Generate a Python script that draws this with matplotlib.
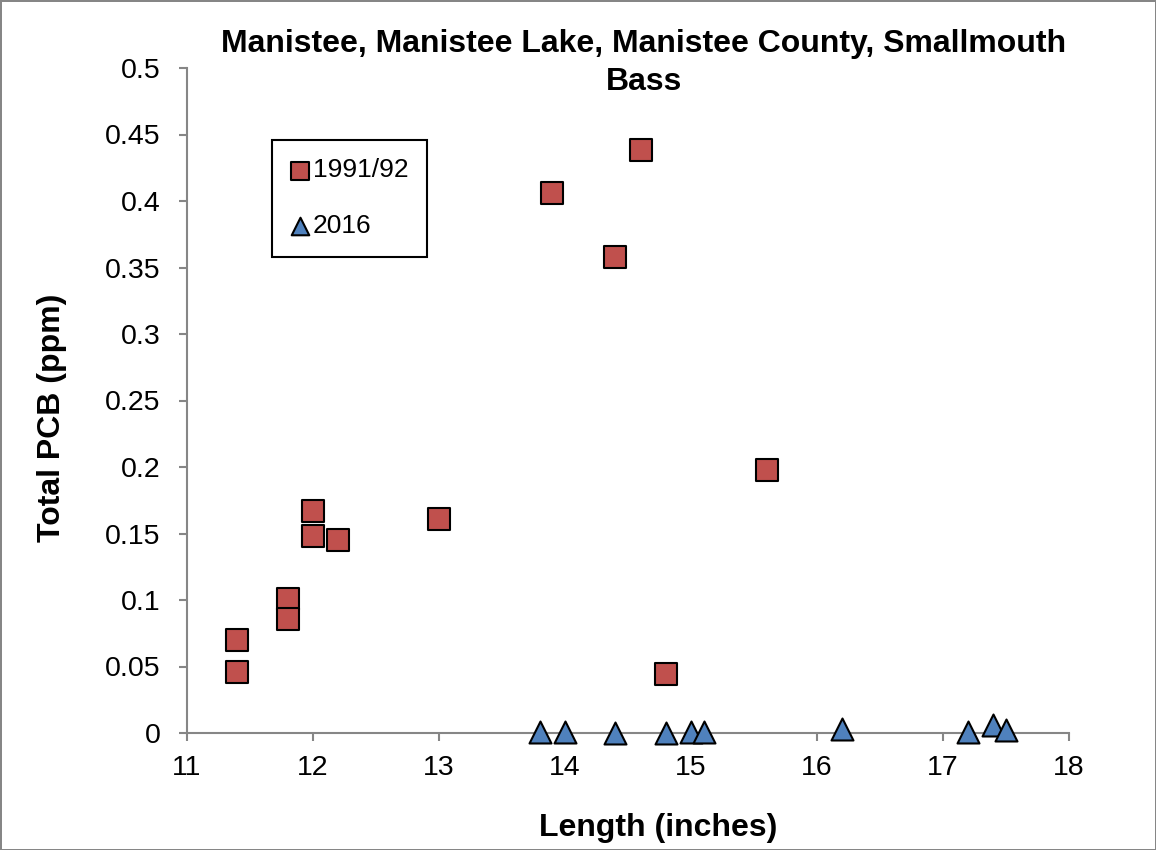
import matplotlib.pyplot as plt
from matplotlib.ticker import FuncFormatter

plt.rcParams['font.family'] = ['Liberation Sans', 'DejaVu Sans']

# 1991/92 samples
len_1991 = [11.4, 11.4, 11.8, 11.8, 12.0, 12.0, 12.2, 13.0, 13.9, 14.4, 14.6, 14.8, 15.6]
pcb_1991 = [0.070, 0.046, 0.101, 0.086, 0.167, 0.148, 0.145, 0.161, 0.406, 0.358, 0.438, 0.044, 0.198]

# 2016 samples
len_2016 = [13.8, 14.0, 14.4, 14.8, 15.0, 15.1, 16.2, 17.2, 17.4, 17.5]
pcb_2016 = [0.001, 0.001, 0.0, 0.0, 0.001, 0.001, 0.003, 0.001, 0.006, 0.002]

x_ticks = [11, 12, 13, 14, 15, 16, 17, 18]
y_ticks = [0, 0.05, 0.1, 0.15, 0.2, 0.25, 0.3, 0.35, 0.4, 0.45, 0.5]

RED = "#C0504D"
BLUE = "#4F81BD"
GRAY = "#868686"
W, H = 1156, 850

fig = plt.figure(figsize=(W / 100, H / 100), dpi=100)
fig.patch.set_edgecolor(GRAY)
fig.patch.set_linewidth(2)
ax = fig.add_axes([187 / W, 1 - 733 / H, (1069 - 187) / W, (733 - 68) / H])

ax.scatter(len_1991, pcb_1991, marker="s", s=250, color=RED, edgecolor="black",
           linewidth=1.5, label="1991/92", zorder=3, clip_on=False)
ax.scatter(len_2016, pcb_2016, marker="^", s=250, color=BLUE, edgecolor="black",
           linewidth=1.5, label="2016", zorder=3, clip_on=False)

ax.set_xlim(11, 18)
ax.set_ylim(0, 0.5)
ax.set_xticks(x_ticks)
ax.set_yticks(y_ticks)
ax.yaxis.set_major_formatter(FuncFormatter(lambda v, p: f"{v:g}"))

for side in ("top", "right"):
    ax.spines[side].set_visible(False)
for side in ("left", "bottom"):
    ax.spines[side].set_color(GRAY)
    ax.spines[side].set_linewidth(1.5)
ax.tick_params(direction="out", length=6, width=1.5, color=GRAY, labelsize=20.5)
ax.tick_params(axis="x", pad=10)
ax.tick_params(axis="y", pad=13)

# titles and axis labels placed in figure pixels
def fx(px):
    return px / W

def fy(py):
    return 1 - py / H

fig.text(fx(644), fy(44), "Manistee, Manistee Lake, Manistee County, Smallmouth",
         ha="center", va="center", fontsize=23, fontweight="bold")
fig.text(fx(644), fy(82), "Bass", ha="center", va="center", fontsize=23, fontweight="bold")
fig.text(fx(658), fy(828), "Length (inches)", ha="center", va="center",
         fontsize=23, fontweight="bold")
fig.text(fx(52), fy(418), "Total PCB (ppm)", ha="center", va="center", rotation=90,
         fontsize=23, fontweight="bold")

leg = ax.legend(loc="upper left", bbox_to_anchor=(fx(272), fy(140)),
                bbox_transform=fig.transFigure, fontsize=19, markerscale=0.8,
                handlelength=0.7, handletextpad=0.15, labelspacing=1.2, borderpad=0.7,
                fancybox=False, framealpha=1, borderaxespad=0)
leg.get_frame().set_edgecolor("black")
leg.get_frame().set_linewidth(1.5)

fig.savefig("out.png", dpi=100)
